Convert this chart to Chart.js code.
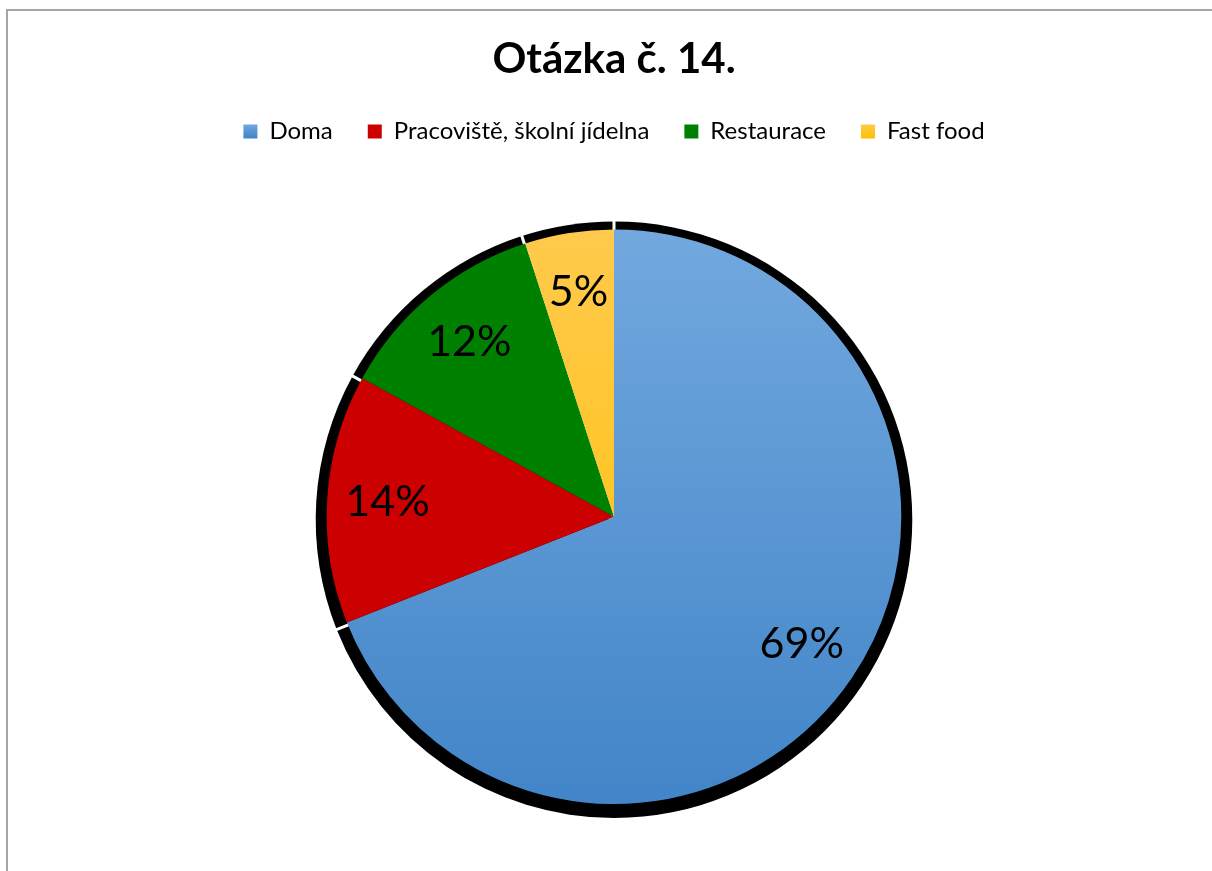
<!DOCTYPE html>
<html>
<head>
<meta charset="utf-8">
<script src="https://cdn.jsdelivr.net/npm/chart.js@4/dist/chart.umd.min.js"></script>
<style>
  html, body { margin: 0; padding: 0; background: #fff; overflow: hidden; }
  #frame {
    position: absolute; left: 6px; top: 9px;
    width: 1240px; height: 900px;
    border: 2px solid #a6a6a6; box-sizing: border-box;
  }
  #wrap { position: absolute; left: 0; top: 0; width: 1212px; height: 871px; }
</style>
</head>
<body>
<div id="frame"></div>
<div id="wrap"><canvas id="c" width="1212" height="871"></canvas></div>
<script>
// Answers to question 14 (share of respondents, %)
const titleText = 'Otázka č. 14.';
const categories = ['Doma', 'Pracoviště, školní jídelna', 'Restaurace', 'Fast food'];
const shares = [69, 14, 12, 5];

// Slice fills: [top colour, bottom colour] of a vertical gradient
const fills = [
  ['#72a8de', '#4285c8'],
  ['#cc0000', '#cc0000'],
  ['#008000', '#008000'],
  ['#ffca4c', '#ffc000']
];

const FONT = 'Lato, "Open Sans", sans-serif';
const LEGEND_GAP = 76; // extra space between the legend row and the pie

function gradientFor(ctx, i, top, bottom) {
  if (!Number.isFinite(top) || !Number.isFinite(bottom) || bottom <= top) {
    return fills[i][1];
  }
  const g = ctx.createLinearGradient(0, top, 0, bottom);
  g.addColorStop(0, fills[i][0]);
  g.addColorStop(1, fills[i][1]);
  return g;
}

// Leave more room under the legend
const legendSpacer = {
  id: 'legendSpacer',
  beforeLayout(chart) {
    const lg = chart.legend;
    if (lg && !lg.__spaced) {
      const fit = lg.fit.bind(lg);
      lg.fit = function () { fit(); this.height += LEGEND_GAP; };
      lg.__spaced = true;
    }
  }
};

// Black drop shadow behind each slice
const sliceShadow = {
  id: 'sliceShadow',
  beforeDatasetsDraw(chart) {
    const ctx = chart.ctx;
    const arcs = chart.getDatasetMeta(0).data;
    ctx.save();
    arcs.forEach(a => {
      const cx = a.x, cy = a.y + 3, r = a.outerRadius + 11;
      ctx.beginPath();
      ctx.moveTo(cx, cy);
      ctx.arc(cx, cy, r, a.startAngle, a.endAngle);
      ctx.closePath();
      ctx.fillStyle = '#000';
      ctx.fill();
    });
    // small gaps between neighbouring shadows
    ctx.strokeStyle = '#fff';
    ctx.lineWidth = 3;
    arcs.forEach(a => {
      const cx = a.x, cy = a.y + 3, r = a.outerRadius + 16;
      ctx.beginPath();
      ctx.moveTo(cx, cy);
      ctx.lineTo(cx + Math.cos(a.startAngle) * r, cy + Math.sin(a.startAngle) * r);
      ctx.stroke();
    });
    ctx.restore();
  }
};

// Percentage labels inside the slices
const sliceLabels = {
  id: 'sliceLabels',
  afterDatasetsDraw(chart) {
    const ctx = chart.ctx;
    const arcs = chart.getDatasetMeta(0).data;
    ctx.save();
    ctx.font = '43px ' + FONT;
    ctx.fillStyle = '#000';
    ctx.textAlign = 'center';
    ctx.textBaseline = 'middle';
    arcs.forEach((a, i) => {
      const mid = (a.startAngle + a.endAngle) / 2;
      const d = a.outerRadius * 0.79;
      ctx.fillText(shares[i] + '%', a.x + Math.cos(mid) * d, a.y + Math.sin(mid) * d);
    });
    ctx.restore();
  }
};

new Chart(document.getElementById('c'), {
  type: 'pie',
  data: {
    labels: categories,
    datasets: [{
      data: shares,
      borderWidth: 0,
      backgroundColor(context) {
        const chart = context.chart;
        const area = chart.chartArea;
        if (!area) return fills[context.dataIndex][1];
        const cy = (area.top + area.bottom) / 2;
        const r = Math.min(area.right - area.left, area.bottom - area.top) / 2;
        return gradientFor(chart.ctx, context.dataIndex, cy - r, cy + r);
      }
    }]
  },
  options: {
    responsive: false,
    animation: false,
    layout: { padding: { left: 16, right: 0, top: 14, bottom: 67 } },
    plugins: {
      title: {
        display: true,
        text: titleText,
        color: '#000',
        font: { family: FONT, size: 42, weight: 'bold' },
        padding: { top: 20, bottom: 0 }
      },
      legend: {
        position: 'top',
        labels: {
          color: '#000',
          font: { family: FONT, size: 24 },
          boxWidth: 14,
          boxHeight: 14,
          padding: 35,
          generateLabels(chart) {
            const ctx = chart.ctx;
            return categories.map((c, i) => ({
              text: c,
              fillStyle: gradientFor(ctx, i, 124, 138),
              strokeStyle: 'rgba(0,0,0,0)',
              lineWidth: 0,
              hidden: false,
              index: i
            }));
          }
        }
      },
      tooltip: { enabled: false }
    }
  },
  plugins: [legendSpacer, sliceShadow, sliceLabels]
});
</script>
</body>
</html>
